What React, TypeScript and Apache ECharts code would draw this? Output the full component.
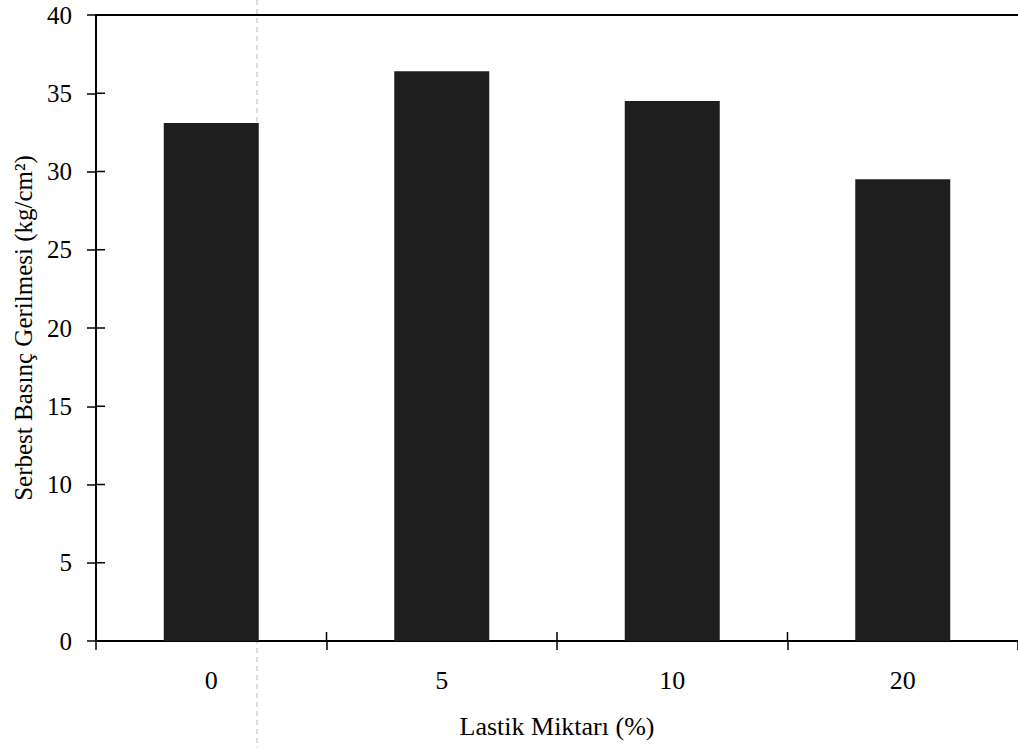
import React, { useEffect, useRef } from "react";
import * as echarts from "echarts";

const categories = ["0", "5", "10", "20"];
const strengthValues = [33.1, 36.4, 34.5, 29.5];
const yTicks = [0, 5, 10, 15, 20, 25, 30, 35, 40];
const xAxisTitle = "Lastik Miktarı (%)";
const yAxisTitle = "Serbest Basınç Gerilmesi (kg/cm²)";

const FONT = "'Liberation Serif', 'Times New Roman', serif";

export default function App() {
  const ref = useRef<HTMLDivElement>(null);

  useEffect(() => {
    document.body.style.margin = "0";
    const chart = echarts.init(ref.current!, null, { renderer: "svg" });
    const option: any = {
      animation: false,
      backgroundColor: "#ffffff",
      grid: { left: 96, right: 0, top: 15, bottom: 107, containLabel: false },
      xAxis: [
        {
          type: "category",
          data: categories,
          position: "bottom",
          boundaryGap: true,
          axisLine: { show: true, lineStyle: { color: "#000", width: 2 } },
          axisTick: { show: true, inside: false, length: 9, lineStyle: { color: "#000", width: 1.5 } },
          axisLabel: { margin: 26, fontFamily: FONT, fontSize: 26, color: "#000" },
          name: xAxisTitle,
          nameLocation: "middle",
          nameGap: 72,
          nameTextStyle: { fontFamily: FONT, fontSize: 26, color: "#000" },
          splitLine: { show: false },
        },
        {
          type: "category",
          data: categories,
          position: "top",
          axisLine: { show: true, lineStyle: { color: "#000", width: 2 } },
          axisTick: { show: false },
          axisLabel: { show: false },
          splitLine: { show: false },
        },
      ],
      yAxis: {
        type: "value",
        min: yTicks[0],
        max: yTicks[yTicks.length - 1],
        interval: 5,
        axisLine: { show: true, lineStyle: { color: "#000", width: 2 } },
        axisTick: { show: true, inside: false, length: 9, lineStyle: { color: "#000", width: 1.5 } },
        axisLabel: { margin: 24, fontFamily: FONT, fontSize: 25, color: "#000" },
        splitLine: { show: false },
        name: yAxisTitle,
        nameLocation: "middle",
        nameGap: 54,
        nameRotate: 90,
        nameTextStyle: { fontFamily: FONT, fontSize: 25, color: "#000" },
      },
      series: [
        {
          type: "bar",
          data: strengthValues,
          barWidth: 95,
          itemStyle: { color: "#1e1e1e" },
        },
      ],
    };
    chart.setOption(option);

    // inner halves of the crossing tick marks and the faint scan fold line
    const graphics: any[] = [];
    const x0 = chart.convertToPixel({ xAxisIndex: 0 }, categories[0]) as number;
    const x1 = chart.convertToPixel({ xAxisIndex: 0 }, categories[1]) as number;
    const band = x1 - x0;
    const axisX = x0 - band / 2;
    const axisY = chart.convertToPixel({ yAxisIndex: 0 }, 0) as number;
    yTicks.slice(1, -1).forEach((v) => {
      const py = chart.convertToPixel({ yAxisIndex: 0 }, v) as number;
      graphics.push({
        type: "line",
        shape: { x1: axisX, y1: py, x2: axisX + 9, y2: py },
        style: { stroke: "#000", lineWidth: 1.5 },
      });
    });
    categories.slice(1).forEach((c, i) => {
      const px = axisX + band * (i + 1);
      graphics.push({
        type: "line",
        shape: { x1: px, y1: axisY, x2: px, y2: axisY - 9 },
        style: { stroke: "#000", lineWidth: 1.5 },
      });
    });
    graphics.push({
      type: "line",
      z: -1,
      shape: { x1: 257, y1: 0, x2: 257, y2: 748 },
      style: { stroke: "#bbb", lineWidth: 1, lineDash: [5, 4] },
    });
    chart.setOption({ graphic: graphics });

    return () => chart.dispose();
  }, []);

  return (
    <div
      ref={ref}
      style={{ position: "absolute", left: 0, top: 0, width: 1018, height: 748 }}
    />
  );
}
